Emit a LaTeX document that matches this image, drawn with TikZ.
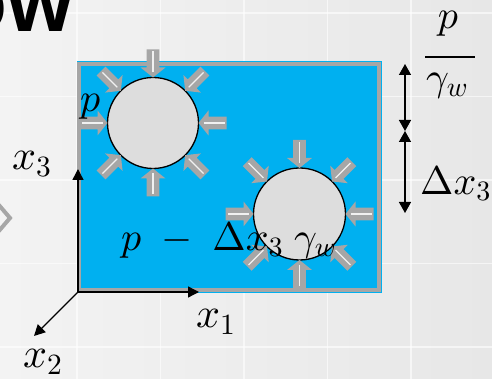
\documentclass[tikz,border=0pt]{standalone}
\usepackage{fontspec}
\newfontfamily\titlefont{Liberation Sans}
\DeclareFontShape{OML}{cmm}{m}{it}{<-6> cmmi5 <6-8> cmmi7 <8-> cmmi10}{}
\DeclareFontShape{OMS}{cmsy}{m}{n}{<-6> cmsy5 <6-8> cmsy7 <8-> cmsy10}{}
\DeclareFontShape{OT1}{cmr}{m}{n}{<-6> cmr5 <6-8> cmr7 <8-> cmr10}{}
\usetikzlibrary{arrows.meta,calc}
\definecolor{bgL}{HTML}{F3F3F3}
\definecolor{bgR}{HTML}{E7E7E7}
\definecolor{waterblue}{HTML}{00B0F0}
\definecolor{arrowgray}{HTML}{A6A6A6}
\definecolor{bubble}{HTML}{DDDDDD}
\tikzset{
  inarrow/.pic={
    \fill[arrowgray] (0,0) -- (10,12.5) -- (10,6.3) -- (28,6.3) -- (28,-6.3) -- (10,-6.3) -- (10,-12.5) -- cycle;
    \draw[white, opacity=0.85, line width=1.1pt] (5,0) -- (26,0);
  },
  bubblestyle/.style={circle, draw=black, line width=1.3pt, fill=bubble, minimum size=#1, inner sep=0pt},
  axisarrow/.style={line width=1.4pt, -{Triangle[width=11pt,length=11pt]}},
  dimarrow/.style={line width=1.4pt, {Triangle[width=12pt,length=11pt]}-{Triangle[width=12pt,length=11pt]}},
  mathlabel/.style={inner sep=0pt, font=\fontsize{40}{46}\selectfont},
  axislabel/.style={inner sep=0pt, font=\fontsize{42}{48}\selectfont},
  gridline/.style={white, opacity=0.6, line width=1.5pt}
}
\begin{document}
\begin{tikzpicture}[x=1pt,y=1pt]
\useasboundingbox (0,0) rectangle (492,379);
\clip (0,0) rectangle (492,379);
% background
\shade[left color=bgL, right color=bgR] (0,0) rectangle (492,379);
\foreach \gx in {77,160.5,244,327.5,411} \draw[gridline] (\gx,0) -- (\gx,379);
\foreach \gy in {366,282.5,199,115.5,32} \draw[gridline] (0,\gy) -- (492,\gy);
% title fragment
\node[anchor=base east, inner sep=0pt, font=\titlefont\bfseries\fontsize{85}{95}\selectfont] (title) at (74,347) {ow};
% chevron
\draw[arrowgray, line width=4pt] (-2,175) -- (10,161) -- (-2,147);
% tank
\draw[waterblue, line width=1pt] (77,317) rectangle (381,86.5);
\filldraw[fill=waterblue, draw=arrowgray, line width=4pt] (79,315) rectangle (379,88.5);
% bubbles
\node[bubblestyle=91pt] (b1) at (153,256) {};
\node[bubblestyle=92pt] (b2) at (299.5,165) {};
\foreach \a in {0,45,...,315} {
  \pic[rotate=\a] at ($(b1.center)+(\a:45.5)$) {inarrow};
  \pic[rotate=\a] at ($(b2.center)+(\a:46)$) {inarrow};
}
% axes
\coordinate (O) at (78,87);
\coordinate (x3end) at (78,210);
\coordinate (x1end) at (199,87);
\coordinate (x2end) at (34,43);
\draw[axisarrow] (O) -- (x3end);
\draw[axisarrow] (O) -- (x1end);
\draw[axisarrow] (O) -- (x2end);
\node[axislabel, anchor=base west] (lx3) at (12,209) {$x_3$};
\node[axislabel, anchor=base west] (lx1) at (196,51) {$x_1$};
\node[axislabel, anchor=base west] (lx2) at (23,11) {$x_2$};
% labels in tank
\node[mathlabel, anchor=base west] (pl) at (80,267) {$p$};
\node[mathlabel, anchor=base west] (pm) at (121,128) {$p\;-\;\Delta x_3\;\gamma_w$};
% dimension arrows
\coordinate (d1) at (405,315);
\coordinate (d2) at (405,248);
\coordinate (d3) at (405,166);
\draw[dimarrow] (d1) -- (d2);
\draw[dimarrow] (d2) -- (d3);
\node[mathlabel, anchor=base] (fnum) at (448,350) {$p$};
\draw[line width=1.4pt] (425,322) -- (475,322);
\node[mathlabel, anchor=base west] (fden) at (426,288) {$\gamma_w$};
\node[mathlabel, anchor=base west] (dx) at (420,184) {$\Delta x_3$};
\end{tikzpicture}
\end{document}
